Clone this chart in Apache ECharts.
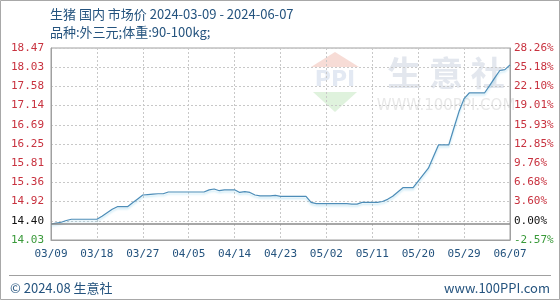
<!DOCTYPE html>
<html><head><meta charset="utf-8">
<script src="https://cdn.jsdelivr.net/npm/echarts@6/dist/echarts.min.js"></script>
<style>html,body{margin:0;padding:0;background:#fff}#c{width:560px;height:300px}</style>
</head><body><div id="c"></div>
<script>
const titleText = '生猪 国内 市场价 2024-03-09 - 2024-06-07';
const subtitleText = '品种:外三元;体重:90-100kg;';
const footerLeft = '© 2024.08 生意社';
const footerRight = 'www.100PPI.com';
const baseValue = 14.40;
const yMin = 14.03, yMax = 18.47, yStep = 0.444;
const dates = [
'03/09','03/10','03/11','03/12','03/13','03/14','03/15','03/16','03/17','03/18','03/19','03/20','03/21','03/22','03/23','03/24','03/25','03/26','03/27','03/28','03/29','03/30','03/31',
'04/01','04/02','04/03','04/04','04/05','04/06','04/07','04/08','04/09','04/10','04/11','04/12','04/13','04/14','04/15','04/16','04/17','04/18','04/19','04/20','04/21','04/22','04/23','04/24','04/25','04/26','04/27','04/28','04/29','04/30',
'05/01','05/02','05/03','05/04','05/05','05/06','05/07','05/08','05/09','05/10','05/11','05/12','05/13','05/14','05/15','05/16','05/17','05/18','05/19','05/20','05/21','05/22','05/23','05/24','05/25','05/26','05/27','05/28','05/29','05/30','05/31',
'06/01','06/02','06/03','06/04','06/05','06/06','06/07'];
const prices = [
14.40,14.42,14.44,14.48,14.51,14.51,14.51,14.51,14.51,14.51,
14.58,14.66,14.74,14.80,14.80,14.80,14.89,14.98,15.07,15.08,
15.09,15.10,15.10,15.14,15.14,15.14,15.14,15.14,15.14,15.14,
15.14,15.19,15.21,15.17,15.19,15.19,15.19,15.13,15.15,15.13,
15.07,15.05,15.05,15.05,15.06,15.04,15.04,15.04,15.04,15.04,
15.04,14.90,14.87,14.87,14.87,14.87,14.87,14.87,14.87,14.86,
14.86,14.90,14.90,14.90,14.90,14.92,14.97,15.04,15.14,15.24,
15.24,15.24,15.39,15.54,15.69,15.96,16.23,16.23,16.23,16.62,
17.00,17.30,17.43,17.43,17.43,17.43,17.60,17.78,17.95,17.97,18.08];
const xTickLabels = ['03/09','03/18','03/27','04/05','04/14','04/23','05/02','05/11','05/20','05/29','06/07'];

const chart = echarts.init(document.getElementById('c'), null, {renderer:'canvas'});
const mono = 'DejaVu Sans Mono';
const cn = '"Noto Sans CJK SC", "DejaVu Sans", sans-serif';
const blue = '#24537e';
const gridDash = {show:true, lineStyle:{color:'#c8c8c8', type:[2,2], width:1}};

function leftFmt(v, i){
  if (i === 0) return '{g|' + yMin.toFixed(2) + '}';
  if (i === 1) return '{k|' + baseValue.toFixed(2) + '}';
  return '{r|' + Number(v).toFixed(2) + '}';
}
function rightFmt(v, i){
  if (i === 1) return '{k|0.00%}';
  const p = (Number(v) / baseValue - 1) * 100;
  return (i === 0 ? '{g|' : '{r|') + p.toFixed(2) + '%}';
}
const rich = {
  r:{color:'#c8323f', fontFamily:mono, fontSize:11},
  g:{color:'#3a9a3a', fontFamily:mono, fontSize:11},
  k:{color:'#111', fontFamily:mono, fontSize:11}
};

chart.setOption({
  animation:false,
  backgroundColor:'#fff',
  grid:{left:51, right:50, top:48, bottom:60, show:true, borderColor:'#a0a0a0', borderWidth:1},
  graphic:[
    {type:'rect', shape:{x:0.5,y:0.5,width:559,height:299}, style:{fill:null, stroke:'#a8a8a8', lineWidth:1}, z:-10},
    {type:'polygon', shape:{points:[[335,52],[359,67],[311,67]]}, style:{fill:'#f7dcd6'}, z:-5},
    {type:'text', style:{text:'PPI', x:335, y:80, fill:'#e3e9f3', font:'bold 22px "DejaVu Sans"', align:'center', verticalAlign:'middle'}, z:-5},
    {type:'polygon', shape:{points:[[313,92],[357,92],[335,112]]}, style:{fill:'#dff2dd'}, z:-5},
    {type:'text', style:{text:'生 意 社', x:446, y:73, fill:'#e3e7ee', font:'bold 34px "Noto Sans CJK SC"', align:'center', verticalAlign:'middle'}, z:-5},
    {type:'text', style:{text:'WWW.100PPI.COM', x:446, y:106, fill:'#e8e8e8', font:'15px "DejaVu Sans"', align:'center', verticalAlign:'middle'}, z:-5},
    {type:'text', style:{text:titleText, x:50, y:14, fill:blue, font:'13px ' + cn, verticalAlign:'middle'}},
    {type:'text', style:{text:subtitleText, x:50, y:32, fill:blue, font:'13px ' + cn, verticalAlign:'middle'}},
    {type:'line', shape:{x1:9,y1:275.5,x2:551,y2:275.5}, style:{stroke:'#a0a0a0', lineWidth:1}},
    {type:'text', style:{text:footerLeft, x:10, y:288, fill:blue, font:'13px ' + cn, verticalAlign:'middle'}},
    {type:'text', style:{text:footerRight, x:550, y:288, fill:blue, font:'13px ' + cn, align:'right', verticalAlign:'middle'}}
  ],
  xAxis:{
    type:'category', data:dates, boundaryGap:false,
    axisLine:{show:true, lineStyle:{color:'#a0a0a0'}},
    axisTick:{show:false},
    axisLabel:{interval:function(i, v){return xTickLabels.indexOf(v) >= 0;}, color:blue, fontFamily:mono, fontSize:11, margin:9},
    splitLine:{show:true, interval:function(i, v){return xTickLabels.indexOf(v) >= 0;}, lineStyle:{color:'#c8c8c8', type:[2,2]}}
  },
  yAxis:[
    {type:'value', min:yMin, max:yMax, interval:yStep, position:'left',
     axisLine:{show:true, lineStyle:{color:'#a0a0a0'}}, axisTick:{show:false},
     axisLabel:{formatter:leftFmt, rich:rich, margin:7},
     splitLine:gridDash},
    {type:'value', min:yMin, max:yMax, interval:yStep, position:'right',
     axisLine:{show:true, lineStyle:{color:'#a0a0a0'}}, axisTick:{show:false},
     axisLabel:{formatter:rightFmt, rich:rich, margin:4},
     splitLine:{show:false}}
  ],
  series:[{
    type:'line', data:prices, yAxisIndex:0, showSymbol:false, symbol:'none',
    lineStyle:{color:'#4d8db8', width:1.2, shadowColor:'rgba(120,200,230,0.45)', shadowBlur:2, shadowOffsetY:2},
    markLine:{silent:true, symbol:'none', label:{show:false},
      lineStyle:{color:'#8a8a8a', type:'solid', width:1.5},
      data:[{yAxis:baseValue}]}
  }]
});
</script></body></html>
